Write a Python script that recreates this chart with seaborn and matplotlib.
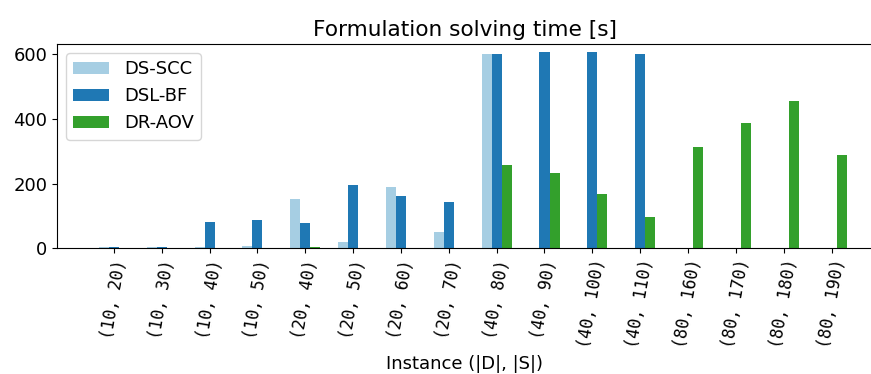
import numpy as np
import pandas as pd
import matplotlib
matplotlib.use("Agg")
import matplotlib.pyplot as plt
import seaborn as sns

instances = ["(10, 20)", "(10, 30)", "(10, 40)", "(10, 50)", "(20, 40)", "(20, 50)",
             "(20, 60)", "(20, 70)", "(40, 80)", "(40, 90)", "(40, 100)", "(40, 110)",
             "(80, 160)", "(80, 170)", "(80, 180)", "(80, 190)"]
ds_scc = [3, 3, 4, 7, 151, 20, 190, 49, 601, 0, 0, 0, 0, 0, 0, 0]
dsl_bf = [4, 4, 82, 86, 78, 197, 161, 143, 601, 606, 606, 601, 0, 0, 0, 0]
dr_aov = [0, 0, 0, 0, 4, 0, 0, 0, 259, 234, 168, 98, 313, 387, 457, 288]
methods = ["DS-SCC", "DSL-BF", "DR-AOV"]
colors = ["#a6cee3", "#1f78b4", "#33a02c"]

rows = []
for m, vals in zip(methods, [ds_scc, dsl_bf, dr_aov]):
    for inst, v in zip(instances, vals):
        rows.append({"instance": inst, "method": m, "time": v})
df = pd.DataFrame(rows)

fig = plt.figure(figsize=(8.71, 3.74), dpi=100)
# axes runs right up to the figure edge, as in the original crop
ax = fig.add_axes([0.0654, 0.3361, 0.9360, 0.5463])
sns.barplot(data=df, x="instance", y="time", hue="method", order=instances,
            hue_order=methods, palette=colors, width=0.63, saturation=1,
            errorbar=None, ax=ax)

ax.set_xlim(-1.19, 15.85)
ax.set_ylim(0, 632)
ax.set_yticks([0, 200, 400, 600])
ax.tick_params(axis="y", labelsize=13)
ax.set_xticks(range(len(instances)))
ax.set_xticklabels(instances, rotation=80, fontsize=12, family="DejaVu Sans Mono")
ax.set_xlabel("Instance (|D|, |S|)", fontsize=13)
ax.set_ylabel("")
ax.set_title("Formulation solving time [s]", fontsize=15.6)

handles, labels = ax.get_legend_handles_labels()
ax.legend(handles, labels, loc="upper left", fontsize=13)

fig.savefig("out.png", dpi=100)
